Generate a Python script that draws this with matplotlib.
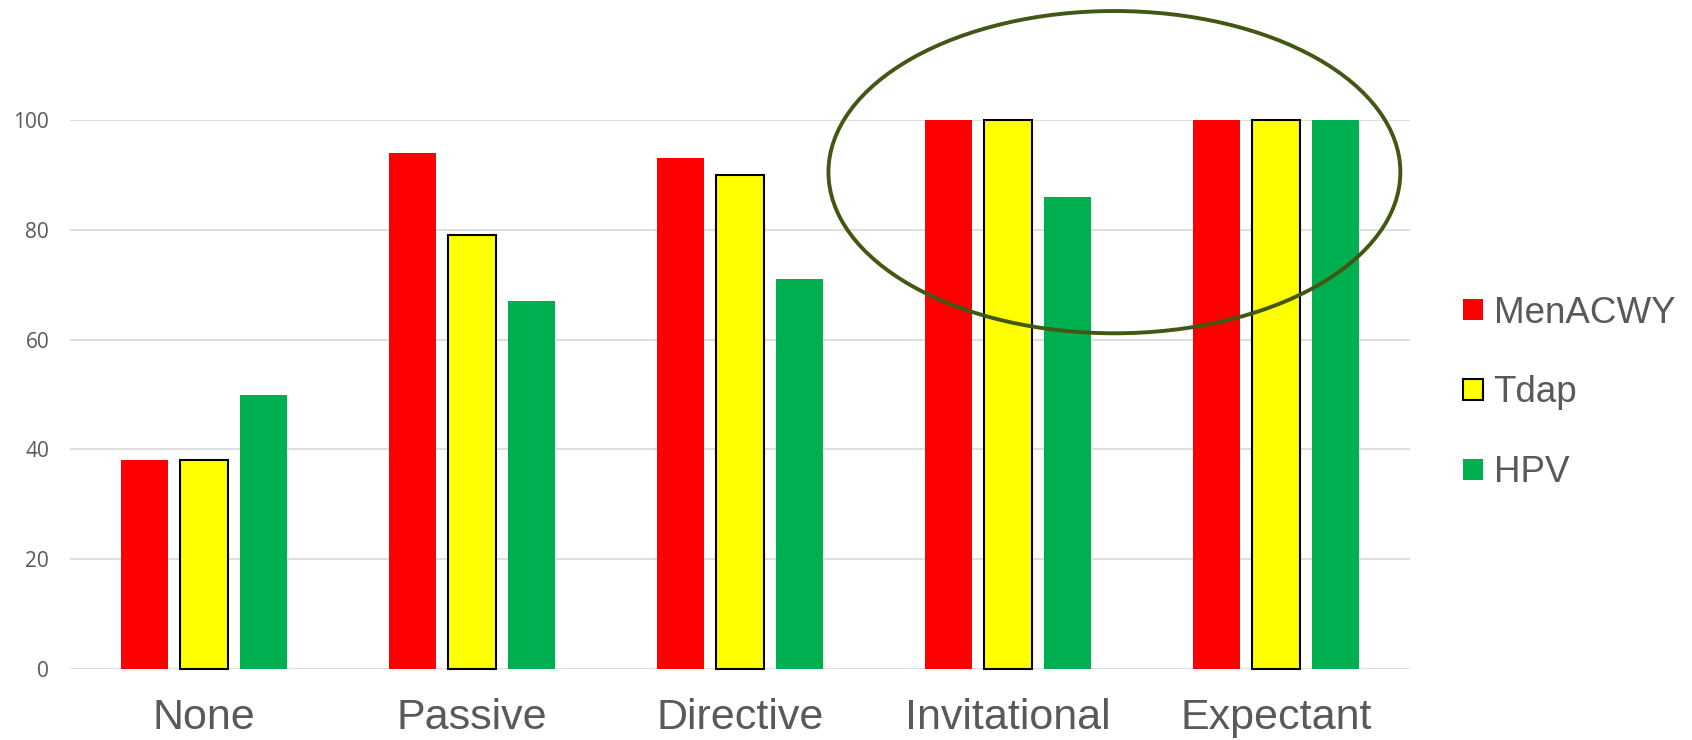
import matplotlib
matplotlib.use("Agg")
import matplotlib.pyplot as plt
from matplotlib.patches import Ellipse
import numpy as np

categories = ["None", "Passive", "Directive", "Invitational", "Expectant"]
series_names = ["MenACWY", "Tdap", "HPV"]
menacwy = [38, 94, 93, 100, 100]
tdap = [38, 79, 90, 100, 100]
hpv = [50, 67, 71, 86, 100]
y_ticks = [0, 20, 40, 60, 80, 100]

series_values = [menacwy, tdap, hpv]
fill_colors = ["#FF0000", "#FFFF00", "#00B050"]
edge_colors = ["none", "#000000", "none"]
edge_widths = [0, 1.5, 0]

fig = plt.figure(figsize=(16.92, 7.40), dpi=100)
ax = fig.add_axes([70 / 1692, 71 / 740, (1410 - 70) / 1692, 549 / 740])

x = np.arange(len(categories))
slot = 0.2214
width = 0.177
handles = []
for j, (vals, fc, ec, lw) in enumerate(zip(series_values, fill_colors, edge_colors, edge_widths)):
    bars = ax.bar(x + (j - 1) * slot, vals, width, color=fc, edgecolor=ec,
                  linewidth=lw, label=series_names[j], zorder=3, clip_on=False)
    handles.append(bars)

ax.set_xlim(-0.5, len(categories) - 0.5)
ax.set_ylim(0, 100)
ax.set_yticks(y_ticks)
ax.set_yticklabels([str(t) for t in y_ticks], fontsize=15, color="#595959",
                   family=["Open Sans", "DejaVu Sans"])
ax.set_xticks(x)
ax.set_xticklabels(categories, fontsize=31, color="#595959",
                   family=["Liberation Sans", "DejaVu Sans"])
ax.tick_params(axis="both", length=0)
ax.tick_params(axis="x", pad=21)
ax.tick_params(axis="y", pad=15)
ax.grid(axis="y", color="#D9D9D9", linewidth=1.2, zorder=0)
ax.set_axisbelow(True)
for s in ax.spines.values():
    s.set_visible(False)

# Highlight ring around the two highest-uptake styles
ring = Ellipse((3.397, 90.5), 2.134, 58.7, fill=False, edgecolor="#435714",
               linewidth=2.8, zorder=5, clip_on=False)
ax.add_patch(ring)

ax.legend(handles=handles, labels=series_names, loc="center left",
          bbox_to_anchor=(1463 / 1692, 1 - 393 / 740), bbox_transform=fig.transFigure,
          frameon=False, borderpad=0, borderaxespad=0,
          prop={"family": ["Liberation Sans", "DejaVu Sans"], "size": 26.5},
          labelcolor="#595959", handlelength=0.53, handleheight=0.53,
          handletextpad=0.3, labelspacing=1.22)

fig.savefig("out.png", dpi=100, facecolor="white")
